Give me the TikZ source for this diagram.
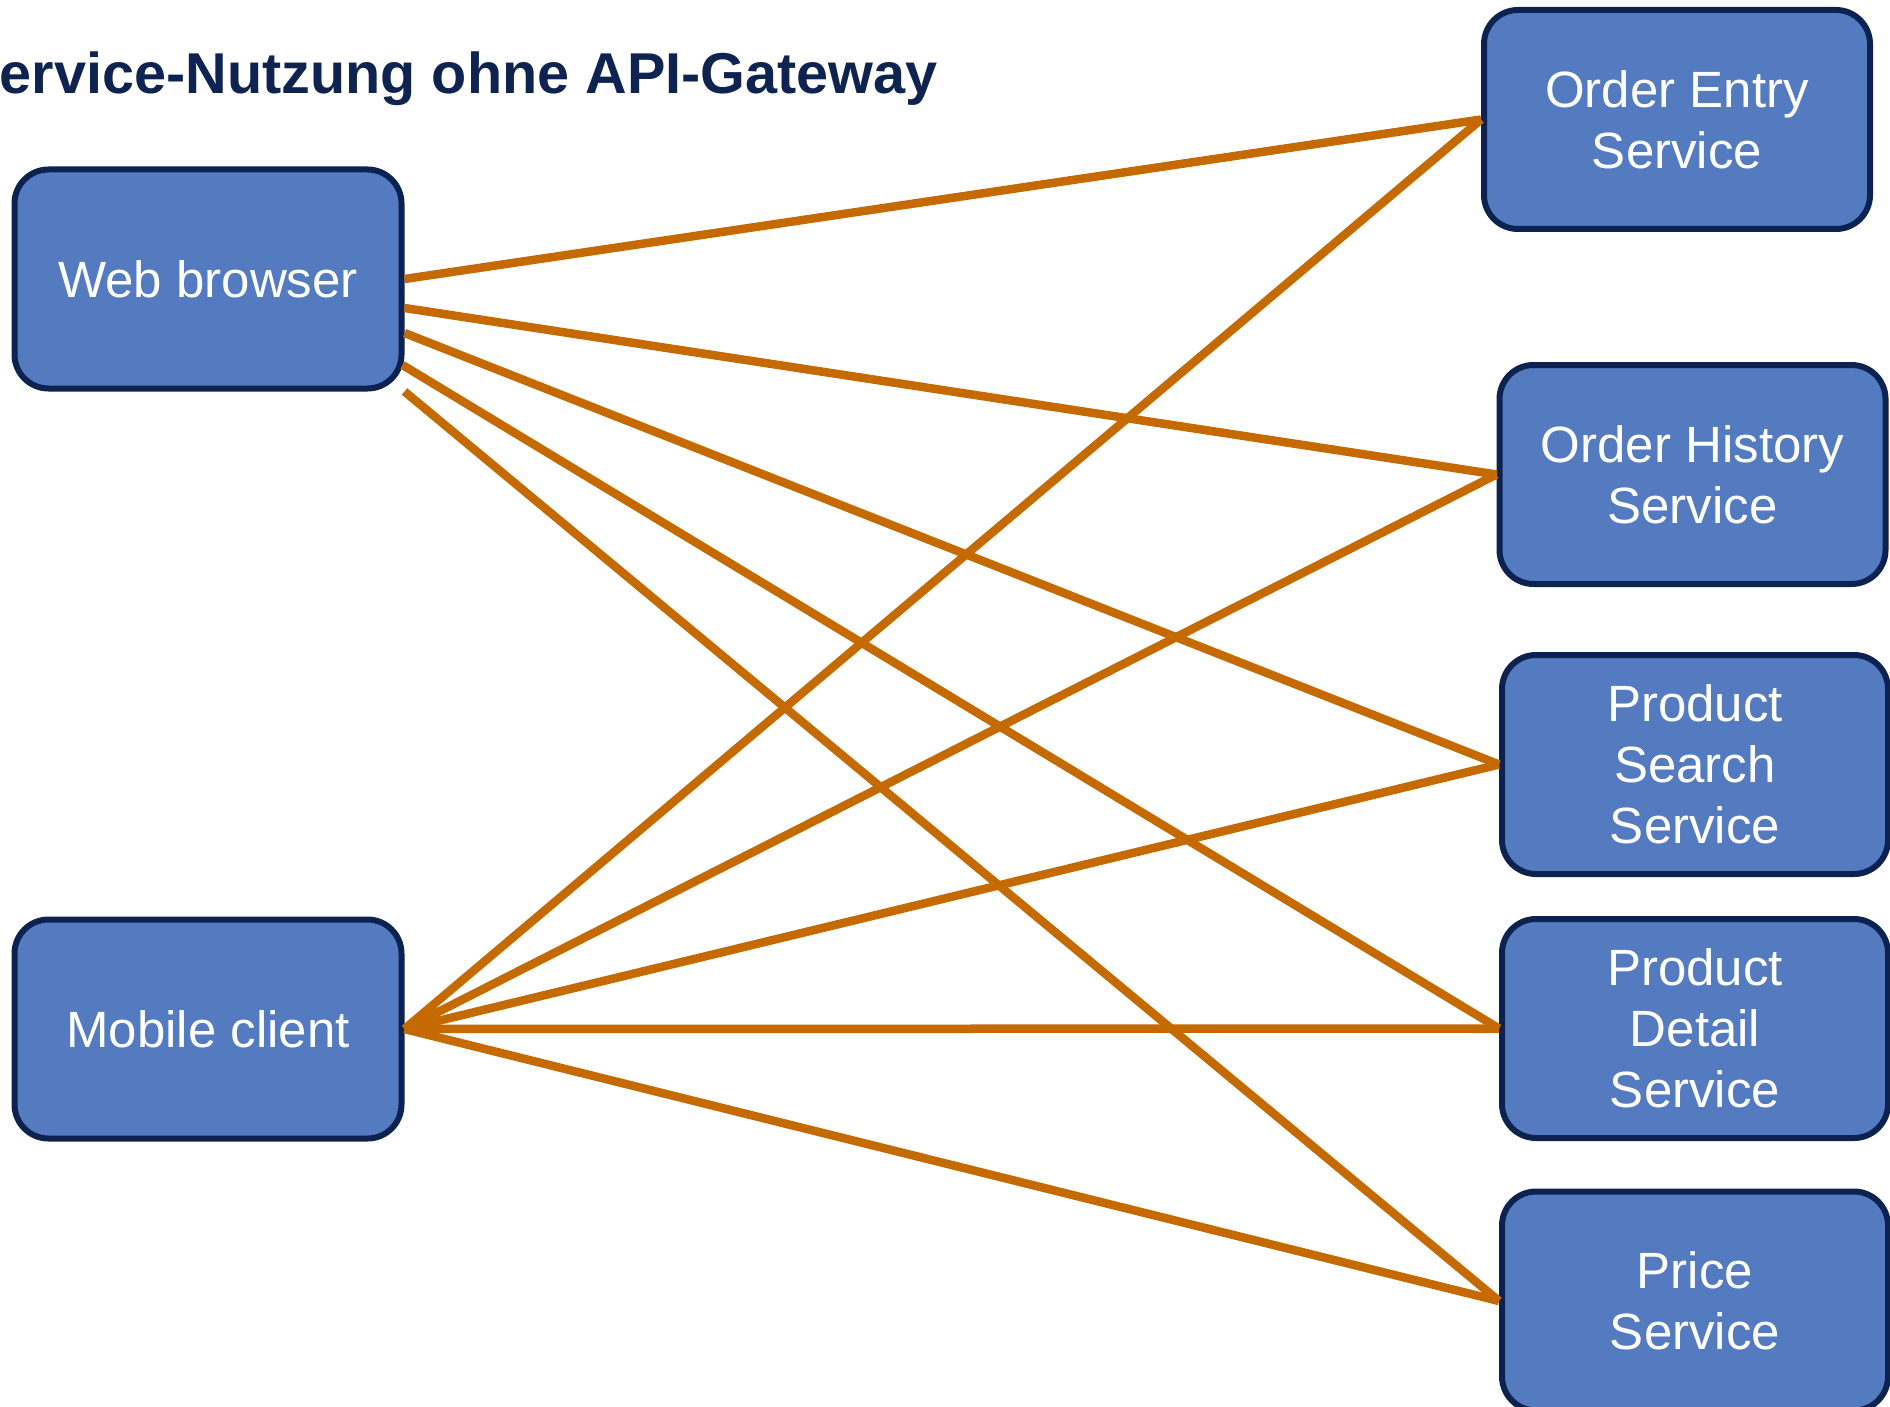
\documentclass[tikz,border=0pt]{standalone}
\usepackage{fontspec}
\setmainfont{Liberation Sans}
\usetikzlibrary{calc}
\definecolor{boxfill}{RGB}{84,123,191}
\definecolor{boxedge}{RGB}{12,34,80}
\definecolor{linkcol}{RGB}{197,106,0}
\definecolor{titlecol}{RGB}{14,35,80}

\begin{document}
\begin{tikzpicture}[x=0.5pt,y=-0.5pt,
  svc/.style={draw=boxedge, line width=3pt, fill=boxfill,
    rounded corners=17pt, minimum width=193.5pt, minimum height=109.5pt,
    inner sep=0pt, text=white, align=center,
    font=\fontsize{25.5}{30.5}\selectfont},
  rsvc/.style={svc, minimum width=193pt},
  conn/.style={draw=linkcol, line width=4.25pt}]

% page frame (the slide is cut off at the left and bottom)
\useasboundingbox (0,0) rectangle (1890,1407);
\clip (0,0) rectangle (1890,1407);

% heading
\node[anchor=base west, inner sep=0pt, text=titlecol,
  font=\bfseries\fontsize{28.8}{34}\selectfont] (title) at (-39,94)
  {Service-Nutzung ohne API-Gateway};

% clients
\node[svc] (web) at (208,279) {Web browser};
\node[svc] (mob) at (208,1029) {Mobile client};

% services
\node[rsvc] (oe) at (1677,119.5) {Order Entry\\Service};
\node[rsvc] (oh) at (1692.5,474.5) {Order History\\Service};
\node[rsvc] (ps) at (1695,764.5) {Product\\Search\\Service};
\node[rsvc] (pd) at (1695,1028.5) {Product\\Detail\\Service};
\node[rsvc] (pr) at (1695,1301) {Price\\Service};

% calls from the web browser
\draw[conn] (web.east) -- (oe.west);
\draw[conn] ($(web.east)+(0,29)$) -- (oh.west);
\draw[conn] ($(web.east)+(0,54)$) -- (ps.west);
\draw[conn] ($(web.east)+(-2,86)$) -- (pd.west);
\draw[conn] (web.south east) -- (pr.west);

% calls from the mobile client
\draw[conn] (mob.east) -- (oe.west);
\draw[conn] (mob.east) -- (oh.west);
\draw[conn] (mob.east) -- (ps.west);
\draw[conn] (mob.east) -- (pd.west);
\draw[conn] (mob.east) -- (pr.west);
\end{tikzpicture}
\end{document}
